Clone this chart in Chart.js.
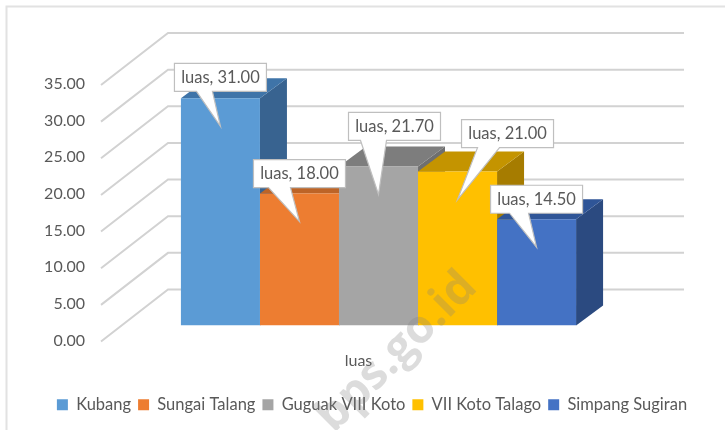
<!DOCTYPE html>
<html><head><meta charset="utf-8">
<style>html,body{margin:0;padding:0;background:#fff}#w{width:725px;height:430px;position:relative}</style>
<script src="https://cdn.jsdelivr.net/npm/chart.js@4"></script></head>
<body><div id="w"><canvas id="c" width="725" height="430"></canvas></div>
<script>
const categories = ['luas'];
const seriesNames = ['Kubang','Sungai Talang','Guguak VIII Koto','VII Koto Talago','Simpang Sugiran'];
const seriesValues = [31.00,18.00,21.70,21.00,14.50];
const frontColors = ['#5b9bd5','#ed7d31','#a5a5a5','#ffc000','#4472c4'];
const topColors = ['#3f74a8','#bd6427','#7d7d7d','#c49400','#2f5597'];
const sideColors = ['#386390','#a85a20','#6f6f6f','#a67c00','#2b4a80'];
// callout box centre relative to the pointer tip, and pointer base relative to the box centre
const boxOffset = [[0,-49],[0,-48],[16,-68],[50,-66],[0,-48]];
const baseOffset = [[-24,-8],[-31,-9],[-34,-8],[-30,-8],[-27,-8]];
const FONT = 'Lato, Carlito, sans-serif';
const TEXT = '#595959';
const DX = 27, DY = 20;

const scene = {
  id:'scene',
  afterLayout(ch){ ch.legend.left += 44; ch.legend.right += 44; },
  beforeDraw(ch){
    const g = ch.ctx; g.save();
    g.strokeStyle='#e2e2e2'; g.lineWidth=2;
    g.beginPath(); g.moveTo(725,6.5); g.lineTo(6.5,6.5); g.lineTo(6.5,430); g.stroke();
    g.restore();
  },
  beforeDatasetsDraw(ch){
    const g = ch.ctx, y = ch.scales.y, a = ch.chartArea;
    g.save();
    g.strokeStyle='#d2d2d2'; g.lineWidth=2;
    y.ticks.forEach(t=>{
      const p = y.getPixelForValue(t.value);
      g.beginPath();
      g.moveTo(a.left, p+16);
      g.lineTo(a.left+67, p-36);
      g.lineTo(a.right+28, p-36);
      g.stroke();
    });
    ch.data.datasets.forEach((d,i)=>{
      const b = ch.getDatasetMeta(i).data[0];
      const l = b.x-b.width/2, r = b.x+b.width/2, t = b.y, bot = b.base;
      g.fillStyle = sideColors[i];
      g.beginPath(); g.moveTo(r,t); g.lineTo(r+DX,t-DY); g.lineTo(r+DX,bot-DY); g.lineTo(r,bot); g.closePath(); g.fill();
      g.fillStyle = topColors[i];
      g.beginPath(); g.moveTo(l,t); g.lineTo(l+DX,t-DY); g.lineTo(r+DX,t-DY); g.lineTo(r,t); g.closePath(); g.fill();
    });
    g.restore();
  },
  afterDatasetsDraw(ch){
    const g = ch.ctx;
    g.save();
    ch.data.datasets.forEach((d,i)=>{
      const b = ch.getDatasetMeta(i).data[0];
      const tx = b.x, ty = b.y+28;
      const cx = tx+boxOffset[i][0], cy = ty+boxOffset[i][1];
      const w = 92, h = 28;
      const L = cx-w/2, R = cx+w/2, T = cy-h/2, B = cy+h/2;
      g.beginPath();
      g.moveTo(L,T); g.lineTo(R,T); g.lineTo(R,B);
      g.lineTo(cx+baseOffset[i][1],B); g.lineTo(tx,ty); g.lineTo(cx+baseOffset[i][0],B);
      g.lineTo(L,B); g.closePath();
      g.fillStyle='#fff'; g.fill();
      g.strokeStyle='#bfbfbf'; g.lineWidth=1.2; g.stroke();
      g.fillStyle=TEXT; g.font='16.5px '+FONT; g.textAlign='center'; g.textBaseline='middle';
      g.fillText(categories[0]+', '+d.data[0].toFixed(2), cx, cy);
    });
    g.restore();
  },
  afterDraw(ch){
    const g = ch.ctx; g.save();
    g.translate(397,352); g.rotate(-Math.PI/4);
    g.fillStyle='rgba(130,130,130,0.28)';
    g.font='bold 46px "Open Sans", sans-serif'; g.textAlign='center'; g.textBaseline='middle';
    g.fillText('bps.go.id',0,0);
    g.restore();
  }
};

new Chart(document.getElementById('c'),{
  type:'bar',
  data:{labels:categories,
    datasets:seriesNames.map((n,i)=>({label:n,data:[seriesValues[i]],backgroundColor:frontColors[i],
      barPercentage:1,categoryPercentage:0.712}))},
  options:{
    responsive:false,animation:false,
    layout:{padding:{top:69,right:69,left:0,bottom:7}},
    plugins:{
      tooltip:{enabled:false},
      legend:{position:'bottom',labels:{boxWidth:11,boxHeight:11,padding:7,color:TEXT,font:{family:FONT,size:16.5}}}
    },
    scales:{
      x:{grid:{display:false},border:{display:false},
        ticks:{color:TEXT,font:{family:FONT,size:16},padding:18,labelOffset:-20},
        afterFit(s){s.height=64;}},
      y:{min:0,max:35,grid:{display:false,drawTicks:false},border:{display:false},
        ticks:{stepSize:5,color:TEXT,font:{family:FONT,size:16},padding:16,labelOffset:15,
          callback:v=>v.toFixed(2)},
        afterFit(s){s.width=101;}}
    }
  },
  plugins:[scene]
});
</script></body></html>
